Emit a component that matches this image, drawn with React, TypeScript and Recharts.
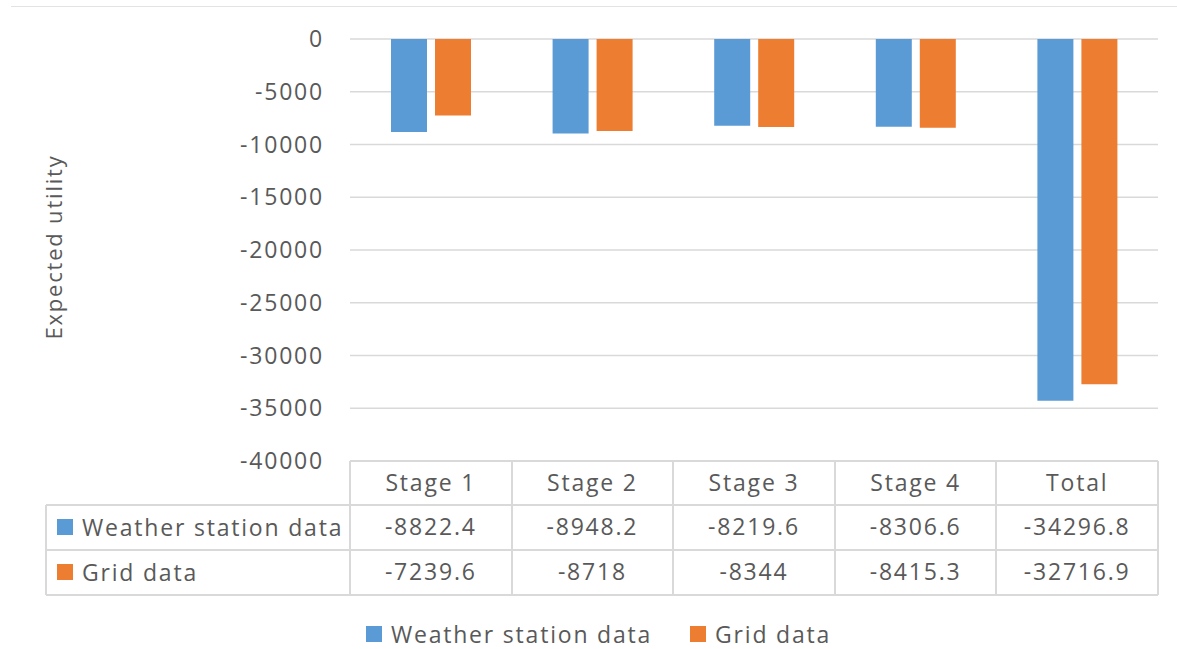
import React from "react";
import { BarChart, Bar, XAxis, YAxis, CartesianGrid, Legend } from "recharts";

const STAGES = ["Stage 1", "Stage 2", "Stage 3", "Stage 4", "Total"];
const WEATHER = [-8822.4, -8948.2, -8219.6, -8306.6, -34296.8];
const GRID = [-7239.6, -8718, -8344, -8415.3, -32716.9];
const Y_TICKS = [0, -5000, -10000, -15000, -20000, -25000, -30000, -35000, -40000];

const SERIES = [
  { key: "weather", name: "Weather station data", color: "#5B9BD5", values: WEATHER },
  { key: "grid", name: "Grid data", color: "#ED7D31", values: GRID },
];

const W = 1177;
const H = 649;
const PLOT_LEFT = 350;
const PLOT_RIGHT = 1158;
const PLOT_TOP = 39;
const PLOT_BOTTOM = 461;
const TEXT = "#595959";
const LINE = "#d9d9d9";
const FONT = "'Open Sans', sans-serif";

const textStyle: React.CSSProperties = {
  fontFamily: FONT,
  fontSize: 23,
  letterSpacing: 1.8,
  color: TEXT,
  whiteSpace: "nowrap",
};

export default function App() {
  const data = STAGES.map((name, i) => ({
    name,
    weather: WEATHER[i],
    grid: GRID[i],
  }));

  const colW = (PLOT_RIGHT - PLOT_LEFT) / STAGES.length;
  const rowTops = [PLOT_BOTTOM, 505, 550, 595];

  // data table under the plot, like the Excel one
  const cells: React.ReactNode[] = [];
  STAGES.forEach((s, i) => {
    cells.push(
      <div
        key={"h" + i}
        style={{
          ...textStyle,
          position: "absolute",
          left: PLOT_LEFT + i * colW,
          top: rowTops[0] - 1,
          width: colW,
          height: rowTops[1] - rowTops[0],
          lineHeight: rowTops[1] - rowTops[0] + "px",
          textAlign: "center",
        }}
      >
        {s}
      </div>
    );
  });
  SERIES.forEach((ser, r) => {
    const top = rowTops[r + 1] - 1;
    const h = rowTops[r + 2] - rowTops[r + 1];
    cells.push(
      <div
        key={"l" + r}
        style={{
          ...textStyle,
          position: "absolute",
          left: 57,
          top,
          height: h,
          display: "flex",
          alignItems: "center",
        }}
      >
        <span style={{ width: 16, height: 16, background: ser.color, marginRight: 9, display: "inline-block" }} />
        {ser.name}
      </div>
    );
    ser.values.forEach((v, i) => {
      cells.push(
        <div
          key={"c" + r + "-" + i}
          style={{
            ...textStyle,
            position: "absolute",
            left: PLOT_LEFT + i * colW,
            top,
            width: colW,
            height: h,
            lineHeight: h + "px",
            textAlign: "center",
          }}
        >
          {String(v)}
        </div>
      );
    });
  });

  const lines: React.ReactNode[] = [];
  // horizontal lines
  rowTops.forEach((y, i) => {
    const left = i === 0 ? PLOT_LEFT : 46;
    lines.push(
      <div
        key={"hl" + i}
        style={{ position: "absolute", left, top: y - 1, width: PLOT_RIGHT - left, height: 2, background: LINE }}
      />
    );
  });
  // vertical lines
  for (let i = 0; i <= STAGES.length; i++) {
    const x = PLOT_LEFT + i * colW;
    lines.push(
      <div
        key={"vl" + i}
        style={{ position: "absolute", left: x - 1, top: rowTops[0], width: 2, height: rowTops[3] - rowTops[0], background: LINE }}
      />
    );
  }
  lines.push(
    <div
      key="vl-left"
      style={{ position: "absolute", left: 45, top: rowTops[1], width: 2, height: rowTops[3] - rowTops[1], background: LINE }}
    />
  );

  return (
    <div style={{ position: "absolute", left: 0, top: 0, width: W, height: H, background: "#fff", overflow: "hidden" }}>
      <div style={{ position: "absolute", left: 11, top: 6, width: W - 11, height: 1, background: "#e3e3e3" }} />
      <BarChart
        width={W}
        height={H}
        data={data}
        margin={{ top: PLOT_TOP, right: W - PLOT_RIGHT, bottom: H - PLOT_BOTTOM, left: 80 }}
        barSize={36}
        barGap={8}
      >
        <CartesianGrid vertical={false} stroke={LINE} strokeWidth={1.5} />
        <XAxis dataKey="name" hide />
        <YAxis
          width={PLOT_LEFT - 80}
          domain={[-40000, 0]}
          ticks={Y_TICKS}
          interval={0}
          axisLine={false}
          tickLine={false}
          tickMargin={20}
          tick={{ fill: TEXT, fontSize: 23, fontFamily: FONT, letterSpacing: 1.8 }}
        />
        {SERIES.map((s) => (
          <Bar key={s.key} dataKey={s.key} name={s.name} fill={s.color} isAnimationActive={false} />
        ))}
        <Legend
          layout="horizontal"
          verticalAlign="middle"
          align="center"
          wrapperStyle={{ left: 0, top: 618, width: W }}
          content={() => (
            <div style={{ display: "flex", justifyContent: "center", paddingLeft: 20 }}>
              {SERIES.map((s, i) => (
                <div key={s.key} style={{ ...textStyle, display: "flex", alignItems: "center", marginLeft: i ? 38 : 0 }}>
                  <span style={{ width: 16, height: 16, background: s.color, marginRight: 9, display: "inline-block" }} />
                  {s.name}
                </div>
              ))}
            </div>
          )}
        />
      </BarChart>
      {lines}
      {cells}
      <div
        style={{
          ...textStyle,
          fontSize: 22,
          position: "absolute",
          left: 53,
          top: 247,
          transform: "translate(-50%, -50%) rotate(-90deg)",
        }}
      >
        Expected utility
      </div>
    </div>
  );
}
